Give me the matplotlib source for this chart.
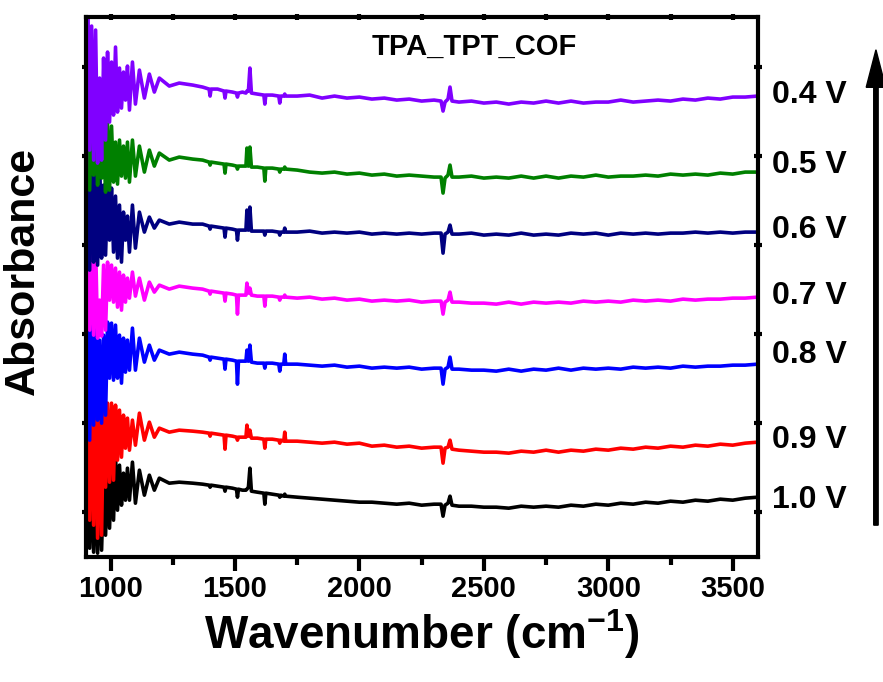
import numpy as np
import matplotlib.pyplot as plt
from matplotlib.patches import FancyArrow

plt.rcParams['font.family'] = ['Liberation Sans', 'DejaVu Sans']
plt.rcParams['font.weight'] = 'bold'
plt.rcParams['mathtext.fontset'] = 'custom'
plt.rcParams['mathtext.rm'] = 'Liberation Sans:bold'
plt.rcParams['mathtext.bf'] = 'Liberation Sans:bold'
plt.rcParams['mathtext.default'] = 'rm'

# wavenumber grid (cm-1)
wavenumber = [900, 908, 916, 924, 932, 940, 948, 956, 964, 972, 980, 988, 996, 1004, 1012, 1020,
              1028, 1036, 1044, 1052, 1060, 1068, 1076, 1088, 1100, 1116, 1136, 1156, 1176, 1196, 1236, 1276,
              1330, 1370, 1396, 1400, 1404, 1430, 1456, 1460, 1464, 1490, 1506, 1510, 1514, 1530, 1544,
              1548, 1554, 1560, 1566, 1590, 1616, 1620, 1624, 1650, 1676, 1680, 1684, 1696, 1700, 1704,
              1750, 1800, 1850, 1900, 1950, 2000, 2050, 2100, 2150, 2200, 2250, 2300,
              2328, 2336, 2344, 2356, 2364, 2372,
              2400, 2450, 2500, 2550, 2600, 2650, 2700, 2750, 2800, 2850, 2900, 2950, 3000, 3050, 3100,
              3150, 3200, 3250, 3300, 3350, 3400, 3450, 3500, 3550, 3600]

# stacked absorbance traces (a.u., offset)
abs_04v = [327, 539, 407, 531, 397, 527, 394, 479, 397, 499, 417, 505, 435, 495, 442, 510,
           445, 489, 449, 485, 457, 491, 447, 495, 453, 487, 459, 483, 465, 479, 471, 474,
           472, 470, 468, 461, 468, 468, 466, 459, 466, 465, 464, 460, 464, 465, 464,
           466, 466, 489, 464, 463, 462, 453, 462, 462, 461, 454, 461, 461, 463, 461,
           461, 462, 459, 461, 459, 460, 458, 459, 457, 458, 456, 457,
           456, 446, 455, 458, 470, 456,
           455, 456, 454, 455, 453, 455, 454, 456, 454, 456, 454, 455, 455, 457, 455,
           456, 457, 456, 458, 457, 459, 458, 460, 460, 461]
abs_05v = [357, 457, 367, 453, 382, 439, 372, 422, 379, 419, 365, 433, 367, 431, 375, 415,
           373, 417, 381, 411, 379, 415, 375, 417, 381, 411, 385, 407, 391, 404, 397, 400,
           398, 397, 395, 392, 395, 394, 393, 384, 393, 392, 391, 388, 391, 391, 391,
           409, 391, 410, 390, 390, 389, 376, 389, 389, 388, 385, 388, 388, 390, 388,
           387, 385, 384, 385, 383, 384, 382, 383, 381, 382, 381, 380,
           380, 364, 379, 382, 392, 380,
           380, 381, 379, 380, 379, 381, 379, 381, 379, 381, 380, 382, 380, 381, 381,
           382, 381, 383, 382, 383, 382, 384, 383, 385, 385]
abs_06v = [282, 450, 287, 445, 295, 407, 292, 402, 299, 372, 302, 367, 317, 369, 305, 361,
           299, 352, 295, 345, 317, 341, 305, 352, 309, 345, 325, 340, 329, 337, 333, 335,
           333, 333, 331, 328, 331, 330, 329, 320, 329, 328, 327, 317, 327, 327, 327,
           347, 327, 350, 326, 326, 326, 322, 326, 326, 325, 322, 325, 325, 329, 325,
           325, 326, 324, 325, 324, 325, 323, 324, 323, 324, 323, 324,
           324, 304, 323, 325, 332, 323,
           323, 324, 322, 323, 322, 324, 322, 323, 322, 324, 323, 324, 322, 324, 323,
           324, 323, 324, 324, 325, 324, 325, 324, 325, 325]
abs_07v = [197, 317, 227, 315, 222, 312, 219, 257, 221, 292, 227, 295, 257, 292, 255, 289,
           250, 285, 247, 282, 255, 279, 259, 285, 261, 279, 257, 275, 265, 272, 268, 271,
           269, 268, 266, 263, 266, 265, 264, 256, 264, 263, 262, 243, 262, 262, 262,
           274, 264, 269, 262, 261, 261, 251, 261, 261, 260, 257, 260, 260, 262, 260,
           259, 260, 258, 259, 257, 258, 256, 257, 256, 257, 255, 256,
           256, 243, 255, 257, 265, 255,
           255, 254, 254, 253, 255, 253, 255, 254, 255, 254, 256, 255, 256, 255, 257,
           256, 257, 256, 258, 257, 258, 258, 259, 259, 260]
abs_08v = [107, 250, 117, 247, 132, 237, 137, 217, 134, 222, 142, 235, 179, 234, 177, 232,
           179, 222, 174, 219, 185, 217, 187, 229, 187, 219, 195, 212, 197, 207, 203, 205,
           203, 202, 200, 197, 200, 199, 198, 188, 198, 197, 196, 173, 196, 196, 196,
           207, 196, 212, 195, 194, 194, 189, 194, 194, 193, 186, 193, 193, 203, 193,
           193, 192, 191, 192, 190, 191, 189, 190, 189, 190, 188, 189,
           189, 173, 188, 190, 200, 188,
           188, 187, 187, 186, 188, 186, 188, 187, 189, 187, 189, 188, 189, 188, 190,
           189, 190, 189, 191, 190, 191, 191, 192, 192, 193]
abs_09v = [27, 167, 37, 169, 32, 162, 19, 157, 22, 152, 70, 154, 75, 154, 77, 152,
           97, 147, 100, 142, 109, 139, 107, 137, 112, 144, 117, 135, 120, 129, 125, 127,
           126, 125, 124, 121, 124, 123, 122, 108, 122, 121, 120, 117, 120, 120, 120,
           132, 121, 127, 119, 119, 118, 109, 118, 118, 117, 114, 117, 116, 125, 116,
           116, 115, 114, 115, 113, 114, 111, 112, 110, 111, 109, 110,
           110, 94, 109, 110, 117, 108,
           107, 106, 105, 105, 104, 106, 105, 107, 105, 107, 106, 108, 107, 109, 108,
           110, 109, 111, 110, 112, 111, 113, 112, 114, 115]
abs_10v = [12, 95, 9, 97, 5, 87, 4, 82, 7, 77, 22, 87, 29, 95, 37, 102,
           47, 92, 52, 84, 57, 89, 57, 95, 54, 87, 62, 82, 67, 79, 74, 75,
           74, 73, 72, 70, 72, 71, 70, 66, 70, 69, 68, 60, 68, 67, 67,
           68, 70, 89, 66, 65, 64, 53, 64, 63, 62, 60, 62, 61, 63, 61,
           60, 59, 58, 57, 56, 55, 55, 54, 53, 54, 52, 53,
           53, 41, 52, 54, 61, 52,
           51, 51, 50, 50, 49, 51, 50, 51, 50, 52, 51, 53, 52, 54, 53,
           55, 54, 56, 55, 57, 56, 58, 57, 59, 60]

potentials = ['1.0 V', '0.9 V', '0.8 V', '0.7 V', '0.6 V', '0.5 V', '0.4 V']
spectra = [abs_10v, abs_09v, abs_08v, abs_07v, abs_06v, abs_05v, abs_04v]
colors = ['#000000', '#ff0000', '#0000ff', '#ff00ff', '#000080', '#008000', '#8000ff']
label_y = [57, 117, 202, 261, 327, 392, 462]

fig = plt.figure(figsize=(8.83, 6.82), dpi=100)
ax = fig.add_axes([0.097, 0.183, 0.761, 0.792])

for spec, c in zip(spectra, colors):
    ax.plot(wavenumber, spec, color=c, lw=2.6)

ax.set_xlim(900, 3600)
ax.set_ylim(0, 540)

# frame and ticks
for s in ax.spines.values():
    s.set_linewidth(3)
ax.set_xticks([1000, 1500, 2000, 2500, 3000, 3500])
ax.set_xticks([1250, 1750, 2250, 2750, 3250], minor=True)
ax.set_yticks(np.arange(45, 540, 89))
ax.tick_params(axis='x', which='major', direction='out', length=10, width=3, labelsize=21, pad=3)
ax.tick_params(axis='x', which='minor', direction='out', length=6, width=3)
ax.tick_params(axis='y', which='major', direction='inout', length=6, width=3, labelleft=False)

top = ax.secondary_xaxis('top')
top.set_xticks([1000, 1500, 2000, 2500, 3000, 3500])
top.set_xticks([1250, 1750, 2250, 2750, 3250], minor=True)
top.tick_params(which='both', direction='inout', length=5, width=3, labeltop=False)
right = ax.secondary_yaxis('right')
right.set_yticks(np.arange(45, 540, 89))
right.tick_params(direction='inout', length=6, width=3, labelright=False)

ax.set_xlabel('Wavenumber (cm$^{-1}$)', fontsize=33, fontweight='bold', labelpad=3)
ax.set_ylabel('Absorbance', fontsize=31, fontweight='bold')
ax.yaxis.set_label_coords(-0.064, 0.53)

ax.text(0.578, 0.944, 'TPA_TPT_COF', transform=ax.transAxes, ha='center', va='center',
        fontsize=21, fontweight='bold')

trans = ax.get_yaxis_transform()
for lab, y in zip(potentials, label_y):
    ax.text(1.022, y, lab, transform=trans, ha='left', va='center', fontsize=23, clip_on=False)

# scan direction arrow
fig.patches.append(FancyArrow(
    0.992, 0.230, 0, 0.697, width=0.005, head_width=0.022, head_length=0.055,
    length_includes_head=True, color='black', transform=fig.transFigure))

fig.savefig('out.png', dpi=100)
